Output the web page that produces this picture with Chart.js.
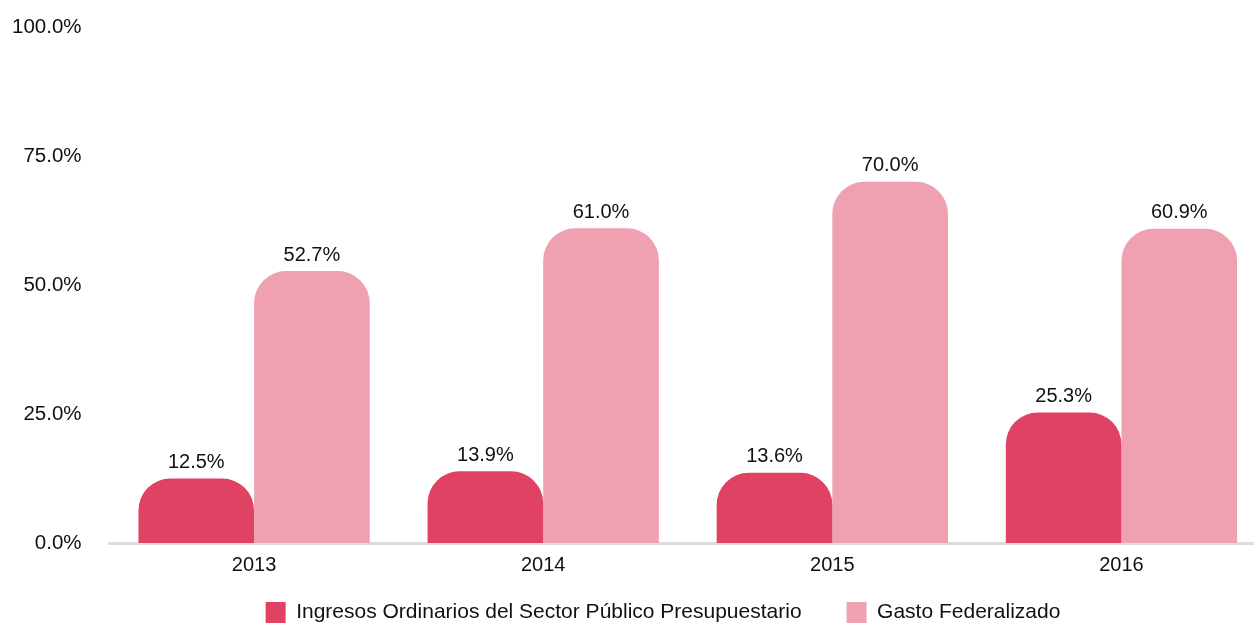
<!DOCTYPE html>
<html>
<head>
<meta charset="utf-8">
<script src="https://cdn.jsdelivr.net/npm/chart.js@4"></script>
<style>
  html, body { margin: 0; padding: 0; background: #fff; overflow: hidden; }
  #wrap { width: 1266px; height: 663px; position: relative; }
</style>
</head>
<body>
<div id="wrap"><canvas id="chart"></canvas></div>
<script>
// chart data
const years = ['2013', '2014', '2015', '2016'];
const ingresos = [12.5, 13.9, 13.6, 25.3];
const gasto = [52.7, 61.0, 70.0, 60.9];
const seriesNames = ['Ingresos Ordinarios del Sector Público Presupuestario', 'Gasto Federalizado'];
const yTicks = [0, 25, 50, 75, 100];

const red = 'rgb(224, 66, 100)';
const pink = 'rgb(239, 160, 177)';
const font = "'Liberation Sans', Arial, Helvetica, sans-serif";

// value labels above each bar
const valueLabels = {
    id: 'valueLabels',
    afterDatasetsDraw(chart) {
        const ctx = chart.ctx;
        ctx.save();
        ctx.font = '20px ' + font;
        ctx.fillStyle = '#111';
        ctx.textAlign = 'center';
        ctx.textBaseline = 'bottom';
        chart.data.datasets.forEach((ds, i) => {
            chart.getDatasetMeta(i).data.forEach((bar, j) => {
                ctx.fillText(ds.data[j].toFixed(1) + '%', bar.x, bar.y - 6);
            });
        });
        ctx.restore();
    }
};

// nudge the legend (right and up) after layout
const legendShift = {
    id: 'legendShift',
    afterLayout(chart) {
        const lg = chart.legend;
        lg.left += 38; lg.right += 38;
        lg.top -= 30; lg.bottom -= 30;
    }
};

const radius = { topLeft: 32, topRight: 32, bottomLeft: 0, bottomRight: 0 };

new Chart(document.getElementById('chart'), {
    type: 'bar',
    data: {
        labels: years,
        datasets: [
            { label: seriesNames[0], data: ingresos, backgroundColor: red, borderRadius: radius, borderSkipped: false },
            { label: seriesNames[1], data: gasto, backgroundColor: pink, borderRadius: radius, borderSkipped: false }
        ]
    },
    options: {
        responsive: true,
        maintainAspectRatio: false,
        animation: false,
        categoryPercentage: 0.8,
        barPercentage: 1.0,
        layout: { padding: { left: -16, top: 27, right: 0, bottom: 0 } },
        plugins: {
            legend: {
                position: 'bottom',
                labels: {
                    boxWidth: 20,
                    boxHeight: 21,
                    padding: 45,
                    color: '#111',
                    font: { family: font, size: 21 }
                }
            },
            tooltip: { enabled: false }
        },
        scales: {
            x: {
                grid: { display: false, drawTicks: false },
                border: { display: true, color: '#dcdcdc', width: 3 },
                ticks: { color: '#111', padding: 10, font: { family: font, size: 20 } }
            },
            y: {
                min: 0,
                max: 100,
                grid: { display: false, drawTicks: false },
                border: { display: false },
                afterBuildTicks(scale) { scale.ticks = yTicks.map(v => ({ value: v })); },
                afterFit(scale) { scale.paddingTop = 0; scale.paddingBottom = 0; },
                ticks: {
                    color: '#111',
                    padding: 28,
                    font: { family: font, size: 20.5 },
                    callback: v => v.toFixed(1) + '%'
                }
            }
        }
    },
    plugins: [valueLabels, legendShift]
});
</script>
</body>
</html>
